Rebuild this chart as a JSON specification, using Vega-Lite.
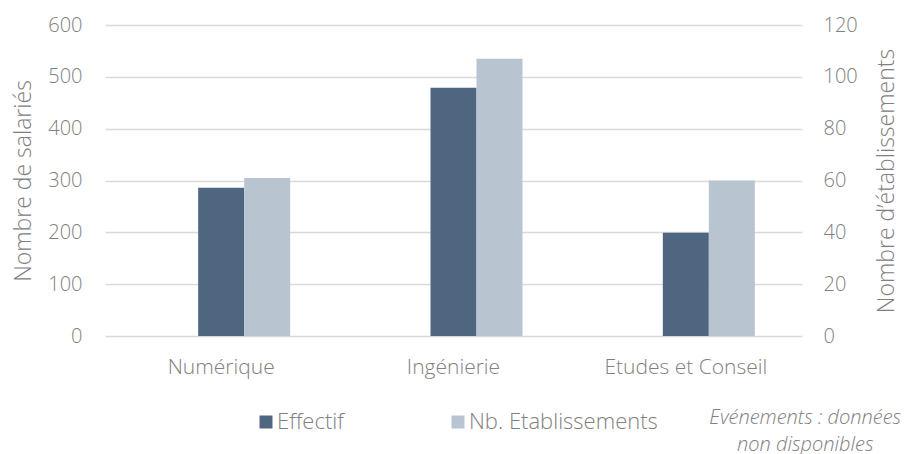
{
  "$schema": "https://vega.github.io/schema/vega-lite/v6.json",
  "width": 697,
  "height": 311,
  "autosize": "none",
  "padding": {"left": 105, "top": 25, "right": 107, "bottom": 118},
  "background": "white",
  "config": {
    "view": {"stroke": null},
    "font": "Open Sans",
    "axis": {"labelFont": "Open Sans", "titleFont": "Open Sans", "labelColor": "#808080", "titleColor": "#808080", "labelFontSize": 20, "labelFontWeight": 300, "titleFontSize": 23, "titleFontWeight": 300, "domain": false, "ticks": false}
  },
  "title": {
    "text": ["Evénements : données", "non disponibles"],
    "orient": "bottom",
    "anchor": "end",
    "align": "center",
    "dx": -93,
    "offset": -25,
    "font": "Open Sans",
    "fontStyle": "italic",
    "fontWeight": 300,
    "fontSize": 20,
    "color": "#808080",
    "lineHeight": 27
  },
  "data": {
    "values": [
      {"categorie": "Numérique", "serie": "Effectif", "valeur": 286},
      {"categorie": "Ingénierie", "serie": "Effectif", "valeur": 479},
      {"categorie": "Etudes et Conseil", "serie": "Effectif", "valeur": 199},
      {"categorie": "Numérique", "serie": "Nb. Etablissements", "valeur": 61},
      {"categorie": "Ingénierie", "serie": "Nb. Etablissements", "valeur": 107},
      {"categorie": "Etudes et Conseil", "serie": "Nb. Etablissements", "valeur": 60}
    ]
  },
  "encoding": {
    "x": {
      "field": "categorie",
      "type": "nominal",
      "sort": ["Numérique", "Ingénierie", "Etudes et Conseil"],
      "scale": {"paddingInner": 0.406, "paddingOuter": 0.203},
      "axis": {"title": null, "labelAngle": 0, "labelPadding": 20, "labelFontSize": 21}
    },
    "xOffset": {
      "field": "serie",
      "type": "nominal",
      "scale": {"domain": ["pad", "Effectif", "Nb. Etablissements"], "paddingInner": 0, "paddingOuter": 0}
    },
    "color": {
      "field": "serie",
      "type": "nominal",
      "scale": {"domain": ["Effectif", "Nb. Etablissements"], "range": ["#4e667f", "#b9c4d1"]},
      "legend": {
        "title": null,
        "orient": "none",
        "legendX": 150,
        "legendY": 386,
        "padding": 0,
        "direction": "horizontal",
        "symbolType": "square",
        "symbolSize": 169,
        "symbolStrokeWidth": 0,
        "labelFontSize": 22,
        "labelFontWeight": 300,
        "labelColor": "#808080",
        "labelFont": "Open Sans",
        "labelOffset": 0,
        "labelLimit": 400,
        "columnPadding": 103
      }
    }
  },
  "layer": [
    {
      "transform": [{"filter": "datum.serie === 'Effectif'"}],
      "mark": {"type": "bar"},
      "encoding": {
        "y": {
          "field": "valeur",
          "type": "quantitative",
          "scale": {"domain": [0, 600]},
          "axis": {"title": "Nombre de salariés", "orient": "left", "values": [0, 100, 200, 300, 400, 500, 600], "labelOverlap": false, "grid": true, "gridColor": "#d9d9d9", "gridWidth": 1.3, "labelPadding": 23, "titlePadding": 12}
        }
      }
    },
    {
      "transform": [{"filter": "datum.serie === 'Nb. Etablissements'"}],
      "mark": {"type": "bar"},
      "encoding": {
        "y": {
          "field": "valeur",
          "type": "quantitative",
          "scale": {"domain": [0, 120]},
          "axis": {"title": "Nombre d’établissements", "orient": "right", "titleAngle": 270, "values": [0, 20, 40, 60, 80, 100, 120], "labelOverlap": false, "grid": false, "labelPadding": 21, "titlePadding": 41}
        }
      }
    }
  ],
  "resolve": {"scale": {"y": "independent"}, "axis": {"y": "independent"}}
}
